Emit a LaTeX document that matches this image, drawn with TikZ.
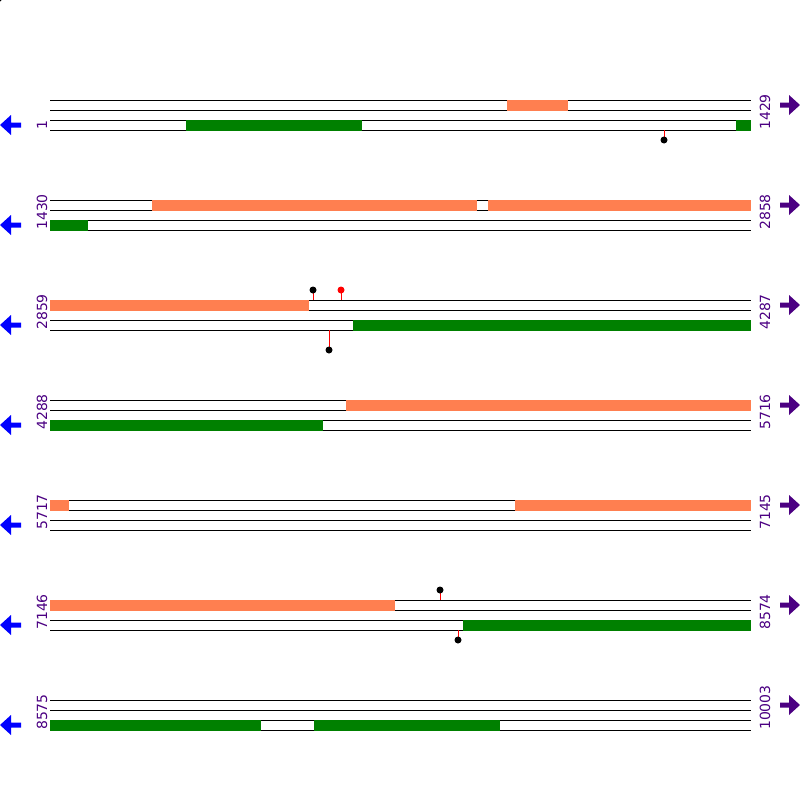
\documentclass[tikz,border=0pt]{standalone}
\usepackage{fontspec}
\setmainfont{DejaVu Sans}
\definecolor{lblpurple}{HTML}{4B0082}
\definecolor{barorange}{HTML}{FF7F50}
\definecolor{bargreen}{HTML}{008000}
\tikzset{
  strand/.style={black, line width=1pt},
  fwdbar/.style={fill=barorange, draw=none},
  revbar/.style={fill=bargreen, draw=none},
  poslabel/.style={text=lblpurple, rotate=90, anchor=west, inner sep=0pt, font=\fontsize{14}{14}\selectfont},
  stick/.style={red, line width=1pt},
  blob/.style={circle, fill=black, inner sep=0pt, minimum size=7pt},
  redblob/.style={circle, fill=red, inner sep=0pt, minimum size=7pt},
  leftarrow/.style={fill=blue, draw=none},
  rightarrow/.style={fill=lblpurple, draw=none}
}
\begin{document}
\begin{tikzpicture}[x=1pt,y=-1pt]
\useasboundingbox (0,0) rectangle (800,800);
\fill[black] (-1.5,-1.5) circle (3.5);
% strands
\foreach \r in {0,...,6}{
  \pgfmathsetmacro{\yy}{100+100*\r}
  \foreach \d in {0,10,20,30}{
    \draw[strand] (50,\yy+\d) -- (751,\yy+\d);
  }
  % left arrow
  \fill[leftarrow] (0,\yy+25) -- (11,\yy+15) -- (11,\yy+22.5) -- (21,\yy+22.5) -- (21,\yy+27.5) -- (11,\yy+27.5) -- (11,\yy+35) -- cycle;
  % right arrow
  \fill[rightarrow] (800,\yy+5) -- (789,\yy-5) -- (789,\yy+2.5) -- (780,\yy+2.5) -- (780,\yy+7.5) -- (789,\yy+7.5) -- (789,\yy+15) -- cycle;
}
% labels
\node[poslabel] (l1) at (42,130) {1};
\node[poslabel] (r1) at (765,130) {1429};
\node[poslabel] (l2) at (42,230) {1430};
\node[poslabel] (r2) at (765,230) {2858};
\node[poslabel] (l3) at (42,330) {2859};
\node[poslabel] (r3) at (765,330) {4287};
\node[poslabel] (l4) at (42,430) {4288};
\node[poslabel] (r4) at (765,430) {5716};
\node[poslabel] (l5) at (42,530) {5717};
\node[poslabel] (r5) at (765,530) {7145};
\node[poslabel] (l6) at (42,630) {7146};
\node[poslabel] (r6) at (765,630) {8574};
\node[poslabel] (l7) at (42,730) {8575};
\node[poslabel] (r7) at (765,730) {10003};
% row 1
\fill[fwdbar] (507,99.5) rectangle (568,110.5);
\fill[revbar] (186,119.5) rectangle (362,130.5);
\fill[revbar] (736,119.5) rectangle (751,130.5);
% row 2
\fill[fwdbar] (152,199.5) rectangle (477,210.5);
\fill[fwdbar] (488,199.5) rectangle (751,210.5);
\fill[revbar] (50,219.5) rectangle (88,230.5);
% row 3
\fill[fwdbar] (50,299.5) rectangle (309,310.5);
\fill[revbar] (353,319.5) rectangle (751,330.5);
% row 4
\fill[fwdbar] (346,399.5) rectangle (751,410.5);
\fill[revbar] (50,419.5) rectangle (323,430.5);
% row 5
\fill[fwdbar] (50,499.5) rectangle (69,510.5);
\fill[fwdbar] (515,499.5) rectangle (751,510.5);
% row 6
\fill[fwdbar] (50,599.5) rectangle (395,610.5);
\fill[revbar] (463,619.5) rectangle (751,630.5);
% row 7
\fill[revbar] (50,719.5) rectangle (261,730.5);
\fill[revbar] (314,719.5) rectangle (500,730.5);
% lollipops
\coordinate (s1) at (664,130);
\draw[stick] (s1) -- (664,140);
\node[blob] (d1) at (664,140) {};

\coordinate (s2) at (313,300);
\draw[stick] (s2) -- (313,290);
\node[blob] (d2) at (313,290) {};

\coordinate (s3) at (341,300);
\draw[stick] (s3) -- (341,290);
\node[redblob] (d3) at (341,290) {};

\coordinate (s4) at (329,330);
\draw[stick] (s4) -- (329,350);
\node[blob] (d4) at (329,350) {};

\coordinate (s5) at (440,600);
\draw[stick] (s5) -- (440,590);
\node[blob] (d5) at (440,590) {};

\coordinate (s6) at (458,630);
\draw[stick] (s6) -- (458,640);
\node[blob] (d6) at (458,640) {};
\end{tikzpicture}
\end{document}
